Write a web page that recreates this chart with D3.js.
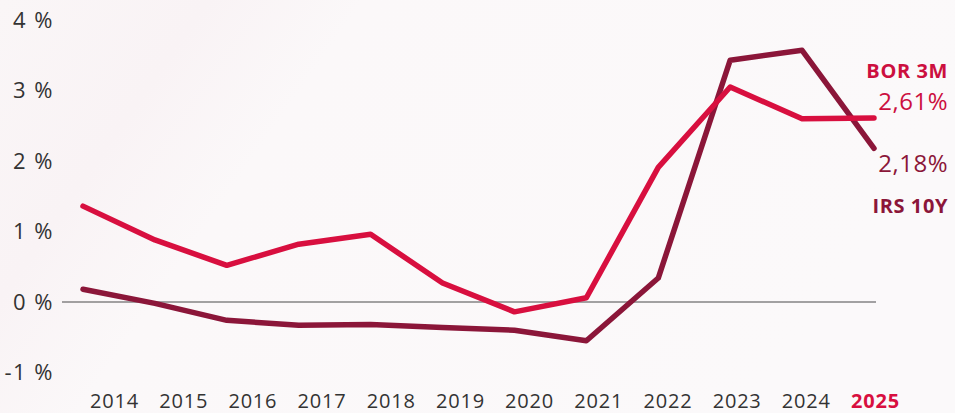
<!DOCTYPE html>
<html>
<head>
<meta charset="utf-8">
<script src="https://cdn.jsdelivr.net/npm/d3@7"></script>
<style>
  html, body { margin: 0; padding: 0; background: #fbf8f9; }
  svg { display: block; }
</style>
</head>
<body>
<svg id="chart" width="955" height="413"></svg>
<script>
const years = [2014, 2015, 2016, 2017, 2018, 2019, 2020, 2021, 2022, 2023, 2024, 2025];
const yearLabels = ["2014", "2015", "2016", "2017", "2018", "2019", "2020", "2021", "2022", "2023", "2024", "2025"];
const bor3m = [1.36, 0.88, 0.52, 0.82, 0.96, 0.27, -0.14, 0.06, 1.91, 3.05, 2.60, 2.61];
const irs10y = [0.18, -0.02, -0.26, -0.33, -0.32, -0.36, -0.40, -0.55, 0.34, 3.43, 3.57, 2.18];
const yTicks = [-1, 0, 1, 2, 3, 4];
const seriesNames = ["BOR 3M", "IRS 10Y"];
const endLabels = ["2,61%", "2,18%"];

const RED = "#d80f3f";
const DARK = "#8b1639";
const FONT = "'Open Sans', 'Noto Sans', sans-serif";

const svg = d3.select("#chart");

// subtle background
const defs = svg.append("defs");
const grad = defs.append("linearGradient").attr("id", "bg").attr("x1", "0").attr("y1", "0").attr("x2", "1").attr("y2", "0.3");
grad.append("stop").attr("offset", "0").attr("stop-color", "#faf6f7");
grad.append("stop").attr("offset", "0.2").attr("stop-color", "#f9f3f5");
grad.append("stop").attr("offset", "0.35").attr("stop-color", "#fbf8f9");
grad.append("stop").attr("offset", "1").attr("stop-color", "#fbf9fa");
svg.append("rect").attr("width", 955).attr("height", 413).attr("fill", "url(#bg)");

const x = d3.scaleLinear().domain([2014, 2025]).range([83, 874]);
const xLab = d3.scalePoint().domain(yearLabels).range([114, 875]);
const y = d3.scaleLinear().domain([-1, 4]).range([372.5, 20]);

// zero line
svg.append("line")
  .attr("x1", 62).attr("x2", 876)
  .attr("y1", y(0)).attr("y2", y(0))
  .attr("stroke", "#4a4a4a").attr("stroke-width", 1.2);

// y axis
const yAxis = svg.append("g")
  .attr("transform", "translate(54,0)")
  .call(d3.axisLeft(y).tickValues(yTicks).tickSize(0).tickPadding(0).tickFormat(d => d + " %"));
yAxis.select(".domain").remove();
yAxis.selectAll("text")
  .attr("font-family", FONT).attr("font-size", 22).attr("letter-spacing", 1.5).attr("fill", "#333");

// x axis
const xAxis = svg.append("g")
  .attr("transform", "translate(0,390)")
  .call(d3.axisBottom(xLab).tickSize(0).tickPadding(0));
xAxis.select(".domain").remove();
xAxis.selectAll("text")
  .attr("font-family", FONT).attr("font-size", 20).attr("letter-spacing", 0.8).attr("fill", "#333")
  .attr("dy", "0.9em")
  .filter(d => d === "2025")
  .attr("fill", RED).attr("font-weight", 700);

const line = d3.line().x((d, i) => x(years[i])).y(d => y(d));

svg.append("path").datum(irs10y)
  .attr("d", line).attr("fill", "none")
  .attr("stroke", DARK).attr("stroke-width", 5.5)
  .attr("stroke-linejoin", "round").attr("stroke-linecap", "round");

svg.append("path").datum(bor3m)
  .attr("d", line).attr("fill", "none")
  .attr("stroke", RED).attr("stroke-width", 5.5)
  .attr("stroke-linejoin", "round").attr("stroke-linecap", "round");

// end labels
const lab = svg.append("g").attr("font-family", FONT).attr("text-anchor", "end");
lab.append("text").attr("x", 948).attr("y", 78)
  .attr("font-size", 20).attr("font-weight", 700).attr("letter-spacing", 0.6).attr("fill", "#cc0f3f").text(seriesNames[0]);
lab.append("text").attr("x", 948).attr("y", 110)
  .attr("font-size", 24).attr("letter-spacing", 0.5).attr("fill", "#cc0f3f").text(endLabels[0]);
lab.append("text").attr("x", 948).attr("y", 172)
  .attr("font-size", 24).attr("letter-spacing", 0.5).attr("fill", DARK).text(endLabels[1]);
lab.append("text").attr("x", 948).attr("y", 213)
  .attr("font-size", 20).attr("font-weight", 700).attr("letter-spacing", 0.6).attr("fill", DARK).text(seriesNames[1]);
</script>
</body>
</html>
